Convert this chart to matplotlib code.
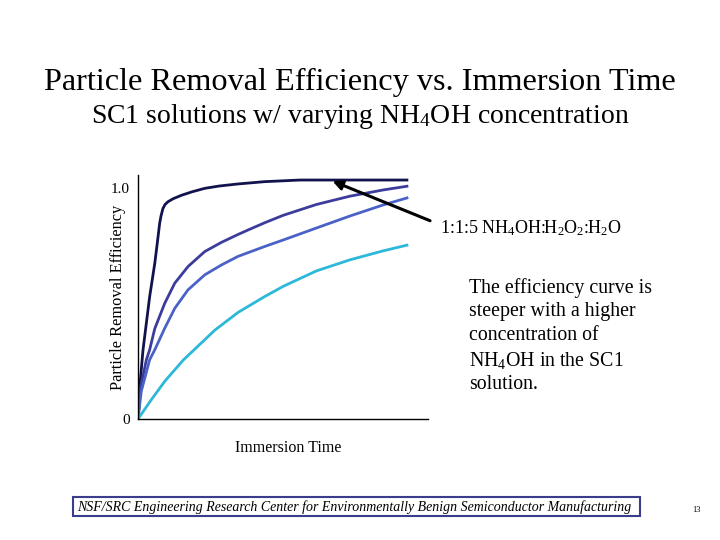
import matplotlib
matplotlib.use("Agg")
import matplotlib.pyplot as plt
from matplotlib.patches import Rectangle

plt.rcParams["font.family"] = ["Liberation Serif", "DejaVu Serif"]
plt.rcParams["mathtext.fontset"] = "custom"
plt.rcParams["mathtext.rm"] = "Liberation Serif"
plt.rcParams["mathtext.it"] = "Liberation Serif:italic"

# immersion time (arbitrary units) and removal efficiency
t_1 = [0, 0.08, 0.185, 0.43, 0.62, 0.71, 0.80, 0.85, 0.92, 1.0, 1.11, 1.3, 1.61, 2.0,
       2.47, 3.0, 3.7, 4.69, 5.99, 8.0, 10.0]
eff_1 = [0, 0.16, 0.30, 0.53, 0.675, 0.76, 0.848, 0.88, 0.912, 0.93, 0.942, 0.955, 0.97,
         0.985, 1.0, 1.01, 1.019, 1.029, 1.036, 1.036, 1.036]

t_2 = [0, 0.1, 0.31, 0.43, 0.62, 0.99, 1.36, 1.85, 2.47, 3.09, 3.7, 4.14, 4.69, 5.37,
       6.6, 7.84, 9.07, 10.0]
eff_2 = [0, 0.14, 0.257, 0.30, 0.392, 0.502, 0.589, 0.661, 0.726, 0.766, 0.80, 0.823,
         0.851, 0.883, 0.93, 0.966, 0.993, 1.01]

t_3 = [0, 0.12, 0.43, 0.62, 0.99, 1.36, 1.85, 2.47, 3.09, 3.7, 4.69, 5.37, 6.6, 7.84,
       9.07, 10.0]
eff_3 = [0, 0.12, 0.257, 0.30, 0.394, 0.48, 0.56, 0.625, 0.668, 0.705, 0.748, 0.776,
         0.828, 0.88, 0.928, 0.96]

t_4 = [0, 0.5, 1.0, 1.67, 2.3, 2.84, 3.7, 4.69, 5.37, 6.6, 7.84, 9.07, 10.0]
eff_4 = [0, 0.085, 0.165, 0.255, 0.325, 0.385, 0.462, 0.531, 0.575, 0.642, 0.69, 0.729, 0.755]

series = [(t_1, eff_1), (t_2, eff_2), (t_3, eff_3), (t_4, eff_4)]
colors = ["#12124e", "#3c3c9c", "#4a62c8", "#2cb8d8"]

fig = plt.figure(figsize=(7.2, 5.4), dpi=100)
ax = fig.add_axes([0.1917, 0.2241, 0.4028, 0.4519])

for (t, e), c in zip(series, colors):
    ax.plot(t, e, color=c, lw=2.0, solid_capstyle="butt", solid_joinstyle="round")

ax.set_xlim(0, 10.73)
ax.set_ylim(0, 1.058)
ax.spines["top"].set_visible(False)
ax.spines["right"].set_visible(False)
ax.spines["left"].set_linewidth(1.0)
ax.spines["bottom"].set_linewidth(1.0)
ax.set_xticks([])
ax.set_yticks([0, 1.0])
ax.set_yticklabels(["0", "1.0"])
ax.tick_params(axis="y", length=0, pad=6, labelsize=11)
ax.set_ylabel("Particle Removal Efficiency", fontsize=11.8)
ax.yaxis.set_label_coords(-0.042, 0.5)
ax.set_xlabel("Immersion Time", fontsize=11.5)
ax.xaxis.set_label_coords(0.517, -0.088)

ax.annotate("", xy=(7.1, 1.036), xytext=(10.9, 0.855),
            xycoords="data", annotation_clip=False,
            arrowprops=dict(arrowstyle="-|>", color="black", lw=2.2,
                            mutation_scale=14))

fig.text(0.5, 0.848, "Particle Removal Efficiency vs. Immersion Time",
         ha="center", va="center", fontsize=23.2)
fig.text(0.5, 0.785, "SC1 solutions w/ varying NH$_4$OH concentration",
         ha="center", va="center", fontsize=20)

fig.text(0.611, 0.578, "1:1:5 NH$_4$OH:H$_2$O$_2$:H$_2$O",
         ha="left", va="center", fontsize=13)
fig.text(0.651, 0.378,
         "The efficiency curve is\nsteeper with a higher\nconcentration of\nNH$_4$OH in the SC1\nsolution.",
         ha="left", va="center", fontsize=14.3, linespacing=1.32)

fig.text(0.492, 0.0615,
         "NSF/SRC Engineering Research Center for Environmentally Benign Semiconductor Manufacturing",
         ha="center", va="center", fontsize=10, style="italic")
fig.patches.append(Rectangle((0.101, 0.045), 0.788, 0.035, transform=fig.transFigure,
                             fill=False, edgecolor="#3c3c8c", lw=1.5))
fig.text(0.968, 0.055, "13", ha="center", va="center", fontsize=6)

fig.savefig("out.png", dpi=100)
